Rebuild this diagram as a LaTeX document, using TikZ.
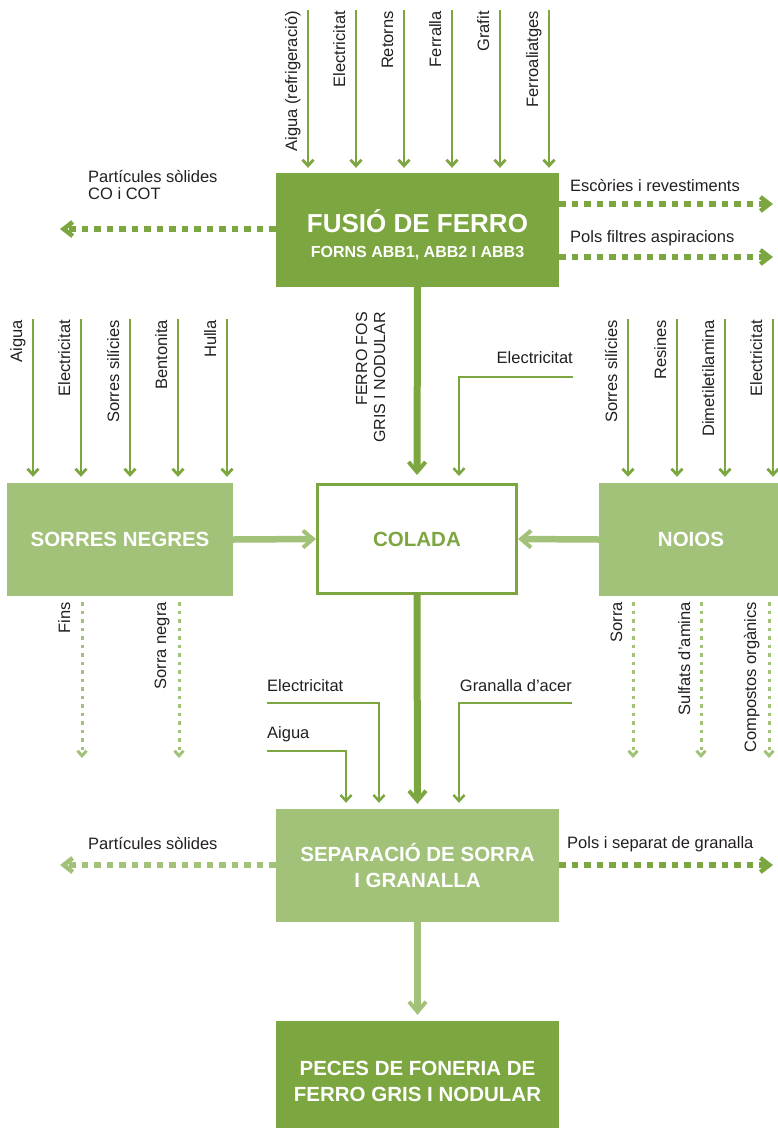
\documentclass[tikz,border=0pt]{standalone}
\usepackage{fontspec}
\setmainfont{Liberation Sans}
\usetikzlibrary{arrows.meta}

\definecolor{darkgreen}{HTML}{7CA63F}
\definecolor{lightgreen}{HTML}{A2C27A}
\definecolor{labelgray}{HTML}{231F20}

\begin{document}
\begin{tikzpicture}[x=1pt,y=-1pt,
   every node/.style={inner sep=0pt},
   boxfont/.style={font=\bfseries\fontsize{20.5}{26}\selectfont, align=center},
   darkbox/.style={fill=darkgreen, text=white, boxfont},
   lightbox/.style={fill=lightgreen, text=white, boxfont},
   lbl/.style={text=labelgray, font=\fontsize{16.5}{17}\selectfont},
   uplbl/.style={lbl, rotate=90, anchor=base east},
   inarrow/.style={darkgreen, line width=2.8pt, -{Straight Barb[length=6pt,width=11pt]}},
   feedline/.style={darkgreen, line width=2.5pt, -{Straight Barb[length=6pt,width=11pt]}},
   bigarrow/.style={line width=7pt, -{Straight Barb[length=10pt,width=17pt,line width=4pt]}},
   outdash/.style={line width=6pt, dash pattern=on 6.5pt off 6pt, -{Straight Barb[length=9pt,width=14pt,line width=4.5pt]}},
   outdot/.style={lightgreen, line width=3pt, dash pattern=on 3.5pt off 5pt, -{Straight Barb[length=5pt,width=9pt]}}]
   \useasboundingbox (0,0) rectangle (778,1128);

   % boxes
   \node[darkbox, minimum width=283pt, minimum height=114pt] (fusio) at (417.5,230) {};
   \node[text=white, font=\bfseries\fontsize{26}{30}\selectfont, anchor=base] (fusiotitle) at (417.5,232) {FUSIÓ DE FERRO};
   \node[text=white, font=\bfseries\fontsize{16}{18}\selectfont, anchor=base] (fusiosub) at (417.5,257) {FORNS ABB1, ABB2 I ABB3};
   \node[draw=darkgreen, line width=3pt, fill=white, text=darkgreen, boxfont, minimum width=199pt, minimum height=109pt] (colada) at (417,539) {COLADA};
   \node[lightbox, minimum width=226pt, minimum height=113pt] (sorres) at (120,539.5) {SORRES NEGRES};
   \node[lightbox, minimum width=184pt, minimum height=113pt] (noios) at (691,539.5) {NOIOS};
   \node[lightbox, minimum width=283pt, minimum height=113pt] (separacio) at (417.5,865.5) {SEPARACIÓ DE SORRA\\I GRANALLA};
   \node[darkbox, minimum width=283pt, minimum height=120pt] (peces) at (417.5,1081) {PECES DE FONERIA DE\\FERRO GRIS I NODULAR};

   % inputs of fusio
   \coordinate (aiguaref) at (308,10);
   \coordinate (elecfus) at (356,10);
   \coordinate (retorns) at (404,10);
   \coordinate (ferralla) at (452,10);
   \coordinate (grafit) at (500,10);
   \coordinate (ferroal) at (549,10);
   \node[uplbl] (aiguareflbl) at (297,11) {Aigua (refrigeració)};
   \node[uplbl] (elecfuslbl) at (345,11) {Electricitat};
   \node[uplbl] (retornslbl) at (393,11) {Retorns};
   \node[uplbl] (ferrallalbl) at (441,11) {Ferralla};
   \node[uplbl] (grafitlbl) at (489,11) {Grafit};
   \node[uplbl] (ferroallbl) at (538,11) {Ferroaliatges};
   \draw[inarrow, shorten >=5pt] (aiguaref) -- (aiguaref |- fusio.north);
   \draw[inarrow, shorten >=5pt] (elecfus) -- (elecfus |- fusio.north);
   \draw[inarrow, shorten >=5pt] (retorns) -- (retorns |- fusio.north);
   \draw[inarrow, shorten >=5pt] (ferralla) -- (ferralla |- fusio.north);
   \draw[inarrow, shorten >=5pt] (grafit) -- (grafit |- fusio.north);
   \draw[inarrow, shorten >=5pt] (ferroal) -- (ferroal |- fusio.north);

   % outputs of fusio
   \coordinate (particules) at (60,229);
   \coordinate (escories) at (773,204);
   \coordinate (polsfiltres) at (773,257);
   \node[lbl, align=left, anchor=base west] (particuleslbl) at (88,199) {Partícules sòlides\\CO i COT};
   \node[lbl, anchor=base west] (escorieslbl) at (570,191) {Escòries i revestiments};
   \node[lbl, anchor=base west] (polsfiltreslbl) at (570,242) {Pols filtres aspiracions};
   \draw[outdash, darkgreen] (particules -| fusio.west) -- (particules);
   \draw[outdash, darkgreen] (escories -| fusio.east) -- (escories);
   \draw[outdash, darkgreen] (polsfiltres -| fusio.east) -- (polsfiltres);

   % fusio to colada
   \draw[bigarrow, darkgreen, shorten >=8pt] (fusio.south) -- (colada.north);
   \node[lbl, font=\fontsize{16}{18}\selectfont, rotate=90, anchor=base east, align=right] (ferrofos) at (385,312) {FERRO FOS\\GRIS I NODULAR};
   \coordinate (elecol) at (573,377);
   \coordinate (elecoldrop) at (459,377);
   \node[lbl, anchor=base east] (elecollbl) at (573,363) {Electricitat};
   \draw[feedline, shorten >=7pt] (elecol) -- (elecoldrop) -- (elecoldrop |- colada.north);

   % inputs of sorres negres
   \coordinate (aiguasor) at (33,319);
   \coordinate (elecsor) at (81,319);
   \coordinate (silsor) at (130,319);
   \coordinate (bentonita) at (178,319);
   \coordinate (hulla) at (227,319);
   \node[uplbl] (aiguasorlbl) at (22,320) {Aigua};
   \node[uplbl] (elecsorlbl) at (70,320) {Electricitat};
   \node[uplbl] (silsorlbl) at (119,320) {Sorres silícies};
   \node[uplbl] (bentonitalbl) at (167,320) {Bentonita};
   \node[uplbl] (hullalbl) at (216,320) {Hulla};
   \draw[inarrow, shorten >=6pt] (aiguasor) -- (aiguasor |- sorres.north);
   \draw[inarrow, shorten >=6pt] (elecsor) -- (elecsor |- sorres.north);
   \draw[inarrow, shorten >=6pt] (silsor) -- (silsor |- sorres.north);
   \draw[inarrow, shorten >=6pt] (bentonita) -- (bentonita |- sorres.north);
   \draw[inarrow, shorten >=6pt] (hulla) -- (hulla |- sorres.north);

   % inputs of noios
   \coordinate (silnoi) at (628,319);
   \coordinate (resines) at (677,319);
   \coordinate (dimetil) at (725,319);
   \coordinate (elecnoi) at (773,319);
   \node[uplbl] (silnoilbl) at (617,320) {Sorres silícies};
   \node[uplbl] (resineslbl) at (666,320) {Resines};
   \node[uplbl] (dimetillbl) at (714,320) {Dimetiletilamina};
   \node[uplbl] (elecnoilbl) at (762,320) {Electricitat};
   \draw[inarrow, shorten >=6pt] (silnoi) -- (silnoi |- noios.north);
   \draw[inarrow, shorten >=6pt] (resines) -- (resines |- noios.north);
   \draw[inarrow, shorten >=6pt] (dimetil) -- (dimetil |- noios.north);
   \draw[inarrow, shorten >=6pt] (elecnoi) -- (elecnoi |- noios.north);

   % sorres and noios to colada
   \draw[bigarrow, lightgreen, line width=6.5pt] (sorres.east) -- (colada.west);
   \draw[bigarrow, lightgreen, line width=6.5pt] (noios.west) -- (colada.east);

   % outputs of sorres negres and noios
   \coordinate (fins) at (82,758);
   \coordinate (sorranegra) at (179,758);
   \coordinate (sorra) at (633,758);
   \coordinate (sulfats) at (701,758);
   \coordinate (compostos) at (769,758);
   \node[uplbl] (finslbl) at (70,602) {Fins};
   \node[uplbl] (sorranegralbl) at (166,602) {Sorra negra};
   \node[uplbl] (sorralbl) at (622,602) {Sorra};
   \node[uplbl] (sulfatslbl) at (690,602) {Sulfats d’amina};
   \node[uplbl] (compostoslbl) at (756,602) {Compostos orgànics};
   \draw[outdot, shorten <=6pt] (fins |- sorres.south) -- (fins);
   \draw[outdot, shorten <=6pt] (sorranegra |- sorres.south) -- (sorranegra);
   \draw[outdot, shorten <=6pt] (sorra |- noios.south) -- (sorra);
   \draw[outdot, shorten <=6pt] (sulfats |- noios.south) -- (sulfats);
   \draw[outdot, shorten <=6pt] (compostos |- noios.south) -- (compostos);

   % colada to separacio
   \draw[bigarrow, darkgreen, shorten >=5pt] (colada.south) -- (separacio.north);
   \coordinate (elecsep) at (267,703);
   \coordinate (elecsepdrop) at (379,703);
   \coordinate (aiguasep) at (267,751);
   \coordinate (aiguasepdrop) at (346,751);
   \coordinate (granalla) at (572,703);
   \coordinate (granalladrop) at (459,703);
   \node[lbl, anchor=base west] (elecseplbl) at (267,691) {Electricitat};
   \node[lbl, anchor=base west] (aiguaseplbl) at (267,738) {Aigua};
   \node[lbl, anchor=base east] (granallalbl) at (572,691) {Granalla d’acer};
   \draw[feedline, shorten >=6pt] (elecsep) -- (elecsepdrop) -- (elecsepdrop |- separacio.north);
   \draw[feedline, shorten >=6pt] (aiguasep) -- (aiguasepdrop) -- (aiguasepdrop |- separacio.north);
   \draw[feedline, shorten >=6pt] (granalla) -- (granalladrop) -- (granalladrop |- separacio.north);

   % outputs of separacio
   \coordinate (particulessep) at (60,865);
   \coordinate (polsgranalla) at (773,865);
   \node[lbl, anchor=base west] (particulesseplbl) at (88,849) {Partícules sòlides};
   \node[lbl, anchor=base west] (polsgranallalbl) at (567,848) {Pols i separat de granalla};
   \draw[outdash, lightgreen] (particulessep -| separacio.west) -- (particulessep);
   \draw[outdash, darkgreen] (polsgranalla -| separacio.east) -- (polsgranalla);

   % separacio to peces
   \draw[bigarrow, lightgreen, shorten >=6pt] (separacio.south) -- (peces.north);
\end{tikzpicture}
\end{document}
